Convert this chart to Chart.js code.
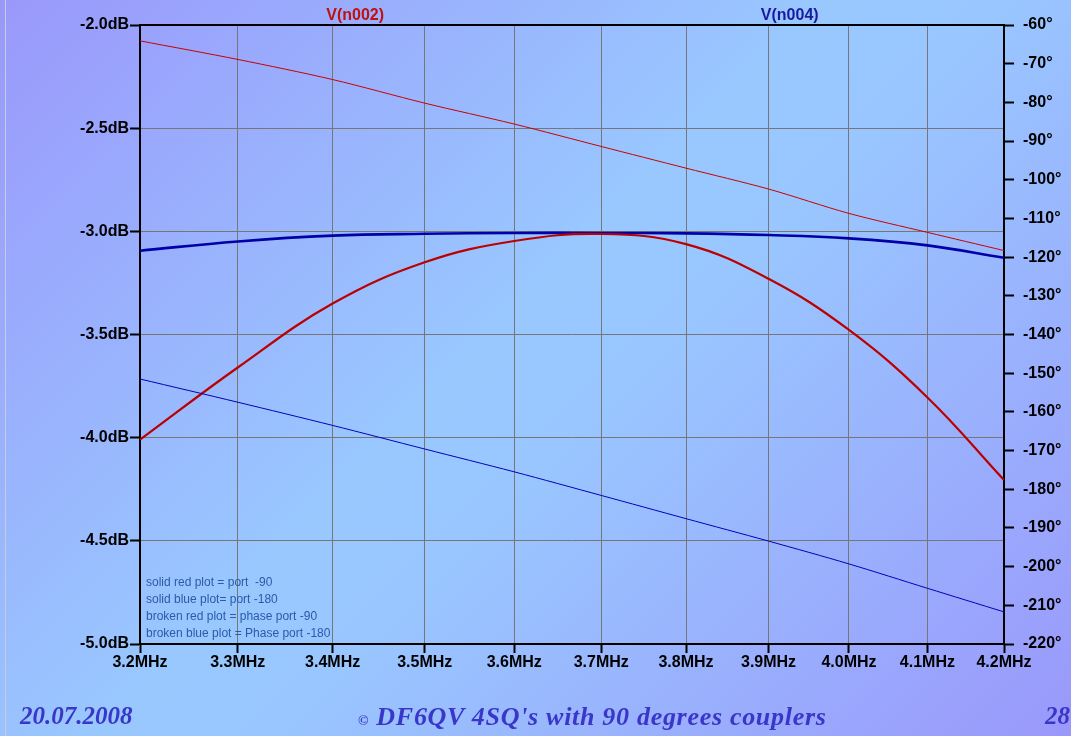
<!DOCTYPE html>
<html>
<head>
<meta charset="utf-8">
<title>DF6QV 4SQ's with 90 degrees couplers</title>
<script src="https://cdn.jsdelivr.net/npm/chart.js@4/dist/chart.umd.min.js"></script>
<style>
  html, body { margin: 0; padding: 0; }
  body {
    width: 1071px; height: 736px; overflow: hidden; position: relative;
    background: linear-gradient(135deg, #9a98fb 0%, #99c8ff 46%, #99c6ff 56%, #9a98fb 100%);
    font-family: "Liberation Sans", Arial, sans-serif;
  }
  #edge { position: absolute; left: 5px; top: 0; width: 1px; height: 736px; background: #c8ccdd; }
  #chart { position: absolute; left: 0; top: 0; }
  .note { position: absolute; left: 146px; font-size: 12px; color: #2a5aa8; white-space: pre; }
  .foot {
    position: absolute; top: 702px; font-family: "Liberation Serif", "Times New Roman", serif;
    font-weight: bold; font-style: italic; font-size: 25px; color: #3a36c8; white-space: nowrap;
  }
  .foot small { font-size: 14px; }
</style>
</head>
<body>
<div id="edge"></div>
<canvas id="chart" width="1071" height="736"></canvas>

<div class="note" style="top:575px">solid red plot = port  -90</div>
<div class="note" style="top:592px">solid blue plot= port -180</div>
<div class="note" style="top:609px">broken red plot = phase port -90</div>
<div class="note" style="top:626px">broken blue plot = Phase port -180</div>

<div class="foot" style="left:20px">20.07.2008</div>
<div class="foot" style="left:358px; font-size:26px; letter-spacing:0.7px"><small>©</small> DF6QV 4SQ's with 90 degrees couplers</div>
<div class="foot" style="left:1045px">28</div>

<script>
// frequency points (MHz)
const freqs = [3.2, 3.3, 3.4, 3.5, 3.6, 3.7, 3.8, 3.9, 4.0, 4.1, 4.2];

// magnitude, dB
const magN002 = [-4.01, -3.66, -3.35, -3.15, -3.047, -3.013, -3.062, -3.23, -3.478, -3.805, -4.205];
const magN004 = [-3.094, -3.049, -3.021, -3.012, -3.008, -3.008, -3.010, -3.018, -3.034, -3.068, -3.128];

// phase, degrees
const phN002 = [-64.1, -68.9, -74.1, -80.2, -85.6, -91.4, -97.0, -102.4, -108.7, -113.6, -118.3];
const phN004 = [-151.5, -157.5, -163.5, -169.6, -175.5, -181.6, -187.6, -193.4, -199.3, -205.6, -211.7];

const boldFont = { family: '"Liberation Sans", Arial, sans-serif', size: 16, weight: 'bold' };

function pts(arr) {
    return freqs.map((f, i) => ({ x: f, y: arr[i] }));
}

// frame on top + trace names
const framePlugin = {
    id: 'frame',
    afterDraw(chart) {
        const ctx = chart.ctx;
        const a = chart.chartArea;
        ctx.save();
        ctx.strokeStyle = '#000';
        ctx.lineWidth = 2;
        ctx.beginPath();
        ctx.moveTo(a.left - 1, a.top);
        ctx.lineTo(a.right + 1, a.top);
        ctx.stroke();

        ctx.font = 'bold 16px "Liberation Sans", Arial, sans-serif';
        ctx.textAlign = 'center';
        ctx.textBaseline = 'middle';
        ctx.fillStyle = '#c01010';
        ctx.fillText('V(n002)', a.left + (a.right - a.left) * 0.249, 16);
        ctx.fillStyle = '#1a1aa0';
        ctx.fillText('V(n004)', a.left + (a.right - a.left) * 0.752, 16);
        ctx.restore();
    }
};

new Chart(document.getElementById('chart'), {
    type: 'line',
    data: {
        datasets: [
            { data: pts(phN002), yAxisID: 'y2', borderColor: '#c80000', borderWidth: 1, tension: 0.3 },
            { data: pts(phN004), yAxisID: 'y2', borderColor: '#0000b8', borderWidth: 1, tension: 0.3 },
            { data: pts(magN002), yAxisID: 'y', borderColor: '#bb0000', borderWidth: 2.2, tension: 0.4 },
            { data: pts(magN004), yAxisID: 'y', borderColor: '#0000a8', borderWidth: 2.6, tension: 0.4 }
        ]
    },
    options: {
        responsive: false,
        animation: false,
        devicePixelRatio: 1,
        elements: { point: { radius: 0 } },
        layout: { padding: { left: 0, right: 0, top: 25, bottom: 62 } },
        plugins: { legend: { display: false }, tooltip: { enabled: false } },
        scales: {
            x: {
                type: 'logarithmic',
                min: 3.2,
                max: 4.2,
                afterBuildTicks(scale) {
                    scale.ticks = freqs.map(v => ({ value: v }));
                },
                afterFit(scale) { scale.height = 30; },
                ticks: {
                    autoSkip: false, maxRotation: 0, padding: 0,
                    color: '#000', font: boldFont,
                    callback: v => Number(v).toFixed(1) + 'MHz'
                },
                grid: { color: '#767676', lineWidth: 1, tickColor: '#000', tickWidth: 2, tickLength: 9 },
                border: { display: true, color: '#000', width: 2 }
            },
            y: {
                position: 'left',
                min: -5, max: -2,
                afterFit(scale) { scale.width = 140; },
                ticks: {
                    stepSize: 0.5, padding: 1, color: '#000', font: boldFont,
                    callback: v => Number(v).toFixed(1) + 'dB'
                },
                grid: { color: '#767676', lineWidth: 1, tickColor: '#000', tickWidth: 2, tickLength: 10 },
                border: { display: true, color: '#000', width: 2 }
            },
            y2: {
                position: 'right',
                min: -220, max: -60,
                afterFit(scale) { scale.width = 67; },
                ticks: {
                    stepSize: 10, padding: 9, color: '#000', font: boldFont,
                    callback: v => v + '°'
                },
                grid: { drawOnChartArea: false, tickColor: '#000', tickWidth: 2, tickLength: 10 },
                border: { display: true, color: '#000', width: 2 }
            }
        }
    },
    plugins: [framePlugin]
});
</script>
</body>
</html>
